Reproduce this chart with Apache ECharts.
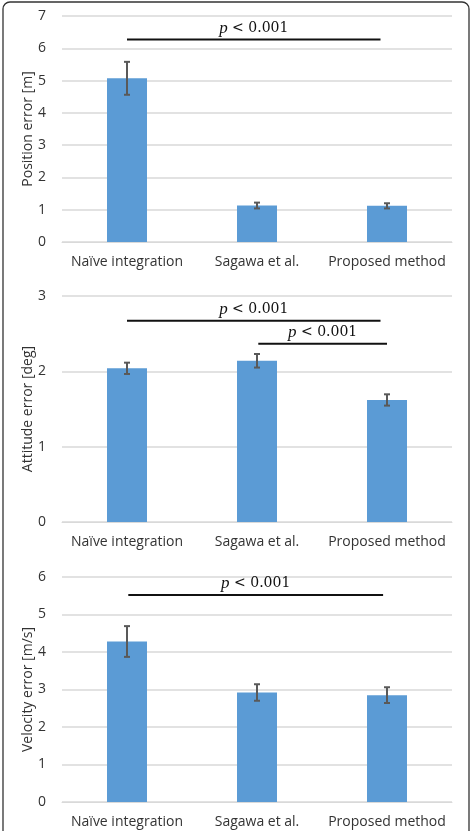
<!DOCTYPE html>
<html>
<head>
<meta charset="utf-8">
<script src="https://cdn.jsdelivr.net/npm/echarts@6/dist/echarts.min.js"></script>
<style>
  html, body { margin: 0; padding: 0; background: #fff; }
  #chart { width: 471px; height: 831px; }
</style>
</head>
<body>
<div id="chart"></div>
<script>
const categories = ["Naïve integration", "Sagawa et al.", "Proposed method"];

// panel data: mean values and error (+/-)
const positionMean = [5.07, 1.13, 1.12];
const positionErr = [0.51, 0.09, 0.08];
const attitudeMean = [2.04, 2.14, 1.62];
const attitudeErr = [0.075, 0.09, 0.075];
const velocityMean = [4.28, 2.92, 2.85];
const velocityErr = [0.41, 0.22, 0.21];

// y-axis ranges
const positionMax = 7;
const attitudeMax = 3;
const velocityMax = 6;

// significance brackets: [from category, to category, y value]
const positionSig = [[0, 1.95, 6.27]];
const attitudeSig = [[0, 1.95, 2.67], [1.01, 2.0, 2.365]];
const velocitySig = [[0.01, 1.97, 5.52]];

const panels = [
  { name: "Position error [m]", mean: positionMean, err: positionErr, max: positionMax, sig: positionSig, top: 16, height: 226 },
  { name: "Attitude error [deg]", mean: attitudeMean, err: attitudeErr, max: attitudeMax, sig: attitudeSig, top: 296, height: 226 },
  { name: "Velocity error [m/s]", mean: velocityMean, err: velocityErr, max: velocityMax, sig: velocitySig, top: 577, height: 225 },
];

const labelFont = "'Open Sans', 'Liberation Sans', sans-serif";
const myChart = echarts.init(document.getElementById("chart"));

const grid = [], xAxis = [], yAxis = [], series = [];

panels.forEach((p, i) => {
  grid.push({ left: 62, right: 19, top: p.top, height: p.height });
  xAxis.push({
    type: "category",
    gridIndex: i,
    data: categories,
    axisLine: { lineStyle: { color: "#d9d9d9", width: 1 } },
    axisTick: { show: false },
    axisLabel: { color: "#333", fontSize: 14, fontFamily: labelFont, margin: 13, interval: 0, hideOverlap: false },
  });
  yAxis.push({
    type: "value",
    gridIndex: i,
    min: 0,
    max: p.max,
    interval: 1,
    name: p.name,
    nameLocation: "middle",
    nameGap: 27,
    nameMoveOverlap: false,
    nameTextStyle: { color: "#333", fontSize: 14, fontFamily: labelFont },
    axisLine: { show: false },
    axisTick: { show: false },
    axisLabel: { color: "#333", fontSize: 14, fontFamily: labelFont, margin: 16 },
    splitLine: { lineStyle: { color: "#d9d9d9", width: 1.5 } },
  });
  series.push({
    type: "bar",
    xAxisIndex: i,
    yAxisIndex: i,
    barWidth: 40,
    itemStyle: { color: "#5b9bd5" },
    data: p.mean,
  });
  // error bars
  series.push({
    type: "custom",
    xAxisIndex: i,
    yAxisIndex: i,
    data: p.mean.map((m, k) => [k, m - p.err[k], m + p.err[k]]),
    renderItem: (params, api) => {
      const lo = api.coord([api.value(0), api.value(1)]);
      const hi = api.coord([api.value(0), api.value(2)]);
      const style = { stroke: "#595959", lineWidth: 2 };
      const w = 3;
      return {
        type: "group",
        children: [
          { type: "line", shape: { x1: hi[0], y1: hi[1], x2: lo[0], y2: lo[1] }, style },
          { type: "line", shape: { x1: hi[0] - w, y1: hi[1], x2: hi[0] + w, y2: hi[1] }, style },
          { type: "line", shape: { x1: lo[0] - w, y1: lo[1], x2: lo[0] + w, y2: lo[1] }, style },
        ],
      };
    },
    z: 5,
  });
  // significance brackets
  series.push({
    type: "custom",
    xAxisIndex: i,
    yAxisIndex: i,
    data: p.sig,
    renderItem: (params, api) => {
      const base = api.coord([0, api.value(2)]);
      const band = api.size([1, 0])[0];
      const x1 = base[0] + api.value(0) * band;
      const x2 = base[0] + api.value(1) * band;
      const y = base[1];
      return {
        type: "group",
        children: [
          { type: "line", shape: { x1, y1: y, x2, y2: y }, style: { stroke: "#111", lineWidth: 2 } },
          {
            type: "text",
            x: (x1 + x2) / 2,
            y: y - 3,
            style: {
              text: "{i|p} < 0.001",
              align: "center",
              verticalAlign: "bottom",
              fill: "#111",
              font: "14px 'DejaVu Serif', serif",
              rich: {
                i: { fontStyle: "italic", fontFamily: "'Liberation Serif', serif", fontSize: 17, fill: "#111" },
              },
            },
          },
        ],
      };
    },
    z: 6,
  });
});

myChart.setOption({
  animation: false,
  grid,
  xAxis,
  yAxis,
  series,
  graphic: [
    {
      type: "rect",
      shape: { x: 3, y: 2, width: 466, height: 860, r: 7 },
      style: { fill: "none", stroke: "#333", lineWidth: 1.3 },
      silent: true,
    },
  ],
});
</script>
</body>
</html>
